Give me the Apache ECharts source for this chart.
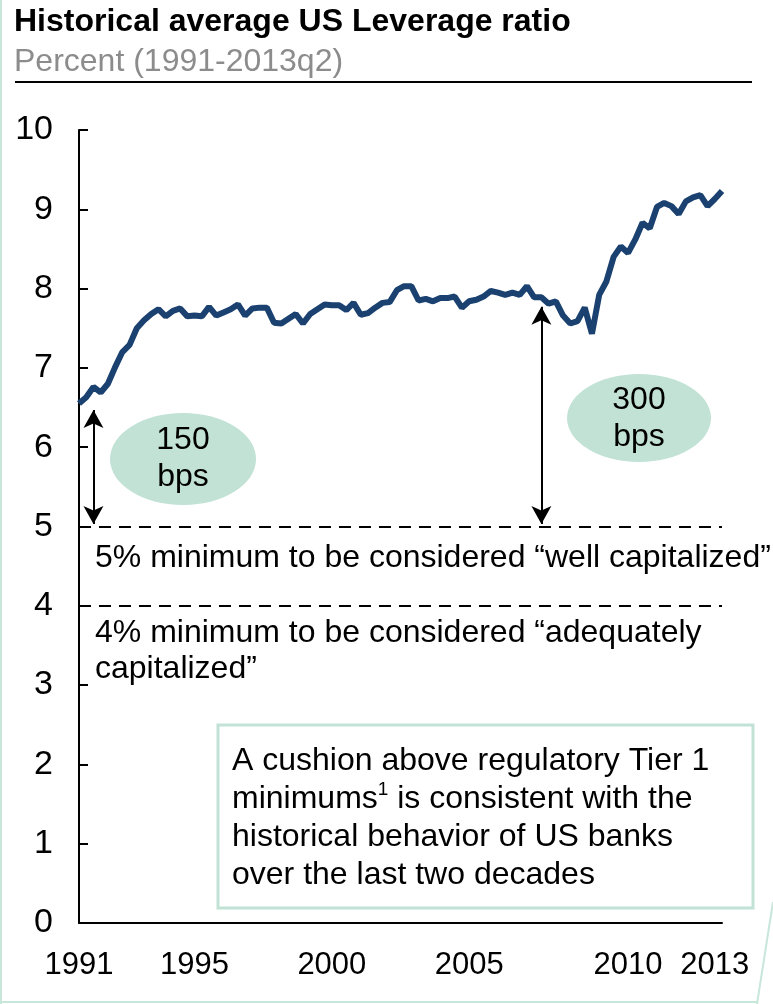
<!DOCTYPE html>
<html>
<head>
<meta charset="utf-8">
<script src="https://cdn.jsdelivr.net/npm/echarts@6/dist/echarts.min.js"></script>
<style>
  html, body { margin: 0; padding: 0; background: #fff; }
  #chart { width: 773px; height: 1004px; }
</style>
</head>
<body>
<div id="chart"></div>
<script>
  // quarterly leverage ratio, 1991q1 .. 2013q2
  const leverage = [
    6.55, 6.63, 6.76, 6.69, 6.80, 7.01, 7.20, 7.29, 7.50, 7.60,
    7.68, 7.74, 7.65, 7.72, 7.75, 7.65, 7.66, 7.65, 7.77, 7.66,
    7.70, 7.74, 7.80, 7.66, 7.75, 7.76, 7.76, 7.57, 7.56, 7.62,
    7.68, 7.56, 7.68, 7.74, 7.80, 7.79, 7.79, 7.73, 7.82, 7.67,
    7.69, 7.76, 7.82, 7.83, 7.98, 8.03, 8.03, 7.85, 7.87, 7.84,
    7.88, 7.88, 7.90, 7.76, 7.84, 7.86, 7.90, 7.97, 7.95, 7.92,
    7.95, 7.92, 8.03, 7.89, 7.89, 7.81, 7.84, 7.66, 7.56, 7.59,
    7.76, 7.43, 7.92, 8.09, 8.40, 8.53, 8.45, 8.62, 8.83, 8.76,
    9.03, 9.08, 9.04, 8.94, 9.10, 9.15, 9.18, 9.04, 9.13, 9.23
  ];
  const quarters = [];
  for (let y = 1991; y <= 2013; y++) {
    for (let q = 1; q <= 4; q++) {
      if (quarters.length < leverage.length) quarters.push(y + "q" + q);
    }
  }
  // year labels shown on the x axis and the quarter they sit on
  const xLabelText = ["1991", "1995", "2000", "2005", "2010", "2013"];
  const xLabelQuarter = ["1991q1", "1995q1", "1999q4", "2004q3", "2010q1", "2013q1"];

  const wellCap = 5;      // well capitalized minimum
  const adequateCap = 4;  // adequately capitalized minimum
  // cushion arrows: [quarter, top value]
  const cushion150 = ["1991q3", 6.47];
  const cushion300 = ["2007q1", 7.77];

  const font = "Liberation Sans, Arial, sans-serif";
  const green = "#c1e2d5";

  const chart = echarts.init(document.getElementById("chart"));
  const option = {
    animation: false,
    title: {
      text: "Historical average US Leverage ratio",
      subtext: "Percent (1991-2013q2)",
      left: 14,
      top: 4,
      padding: 0,
      itemGap: 4,
      textStyle: { fontFamily: font, fontSize: 32, fontWeight: "bold", color: "#000", lineHeight: 36 },
      subtextStyle: { fontFamily: font, fontSize: 32, color: "#8c8c8c", lineHeight: 36 }
    },
    grid: { left: 79, right: 51, top: 130, bottom: 81 },
    xAxis: {
      type: "category",
      data: quarters,
      boundaryGap: false,
      axisLine: { lineStyle: { color: "#000", width: 2 } },
      axisTick: { show: false },
      axisLabel: {
        fontFamily: font,
        fontSize: 31,
        color: "#000",
        margin: 27,
        interval: (i, v) => xLabelQuarter.indexOf(v) >= 0,
        formatter: v => xLabelText[xLabelQuarter.indexOf(v)]
      },
      splitLine: { show: false }
    },
    yAxis: {
      type: "value",
      min: 0,
      max: 10,
      interval: 1,
      axisLine: { show: true, lineStyle: { color: "#000", width: 2 } },
      axisTick: { show: true, inside: true, length: 9, lineStyle: { color: "#000", width: 2 } },
      axisLabel: { fontFamily: font, fontSize: 34, color: "#000", margin: 26 },
      splitLine: { show: false }
    },
    series: [
      {
        type: "line",
        data: leverage,
        symbol: "none",
        lineStyle: { color: "#1a416f", width: 6 },
        markLine: {
          silent: true,
          symbol: "none",
          label: { show: false },
          lineStyle: { color: "#000", width: 2, type: [12, 8] },
          data: [{ yAxis: wellCap }, { yAxis: adequateCap }]
        }
      },
      {
        type: "line",
        data: [],
        markLine: {
          silent: true,
          symbol: ["arrow", "arrow"],
          symbolSize: [15, 18],
          label: { show: false },
          lineStyle: { color: "#000", width: 2, type: "solid" },
          data: [
            [{ coord: [cushion150[0], cushion150[1]] }, { coord: [cushion150[0], wellCap + 0.03] }],
            [{ coord: [cushion300[0], cushion300[1]] }, { coord: [cushion300[0], wellCap + 0.03] }]
          ]
        }
      }
    ],
    graphic: [
      // slide frame
      { type: "line", shape: { x1: 1, y1: 0, x2: 1, y2: 1004 }, style: { stroke: "#c8e6da", lineWidth: 2 } },
      { type: "line", shape: { x1: 0, y1: 1002, x2: 757, y2: 1002 }, style: { stroke: "#c8e6da", lineWidth: 2 } },
      { type: "line", shape: { x1: 773, y1: 902, x2: 757, y2: 1004 }, style: { stroke: "#c8e6da", lineWidth: 2 } },
      // rule under the heading
      { type: "line", shape: { x1: 15, y1: 82, x2: 752, y2: 82 }, style: { stroke: "#000", lineWidth: 2 } },
      // bubbles
      { type: "ellipse", shape: { cx: 183, cy: 459, rx: 73, ry: 46 }, style: { fill: green } },
      { type: "text", style: { text: "150\nbps", x: 183, y: 459, align: "center", verticalAlign: "middle", font: "32px " + font, lineHeight: 37, fill: "#000" } },
      { type: "ellipse", shape: { cx: 639, cy: 418, rx: 72, ry: 44 }, style: { fill: green } },
      { type: "text", style: { text: "300\nbps", x: 639, y: 419, align: "center", verticalAlign: "middle", font: "32px " + font, lineHeight: 37, fill: "#000" } },
      // threshold captions
      { type: "text", style: { text: "5% minimum to be considered \u201cwell capitalized\u201d", x: 95, y: 558, verticalAlign: "middle", font: "32px " + font, fill: "#000" } },
      { type: "text", style: { text: "4% minimum to be considered \u201cadequately\ncapitalized\u201d", x: 95, y: 651, verticalAlign: "middle", font: "32px " + font, lineHeight: 36, fill: "#000" } },
      // note box
      { type: "rect", shape: { x: 218, y: 725, width: 535, height: 183 }, style: { fill: "#fff", stroke: green, lineWidth: 3 } },
      {
        type: "text",
        style: {
          text: "A cushion above regulatory Tier 1\nminimums{sup|1} is consistent with the\nhistorical behavior of US banks\nover the last two decades",
          x: 232, y: 818, verticalAlign: "middle",
          font: "32px " + font, lineHeight: 38, fill: "#000",
          rich: { sup: { fontSize: 19, fontFamily: font, verticalAlign: "top", padding: [0, 0, 14, 0], fill: "#000" } }
        }
      }
    ]
  };
  chart.setOption(option);
</script>
</body>
</html>
